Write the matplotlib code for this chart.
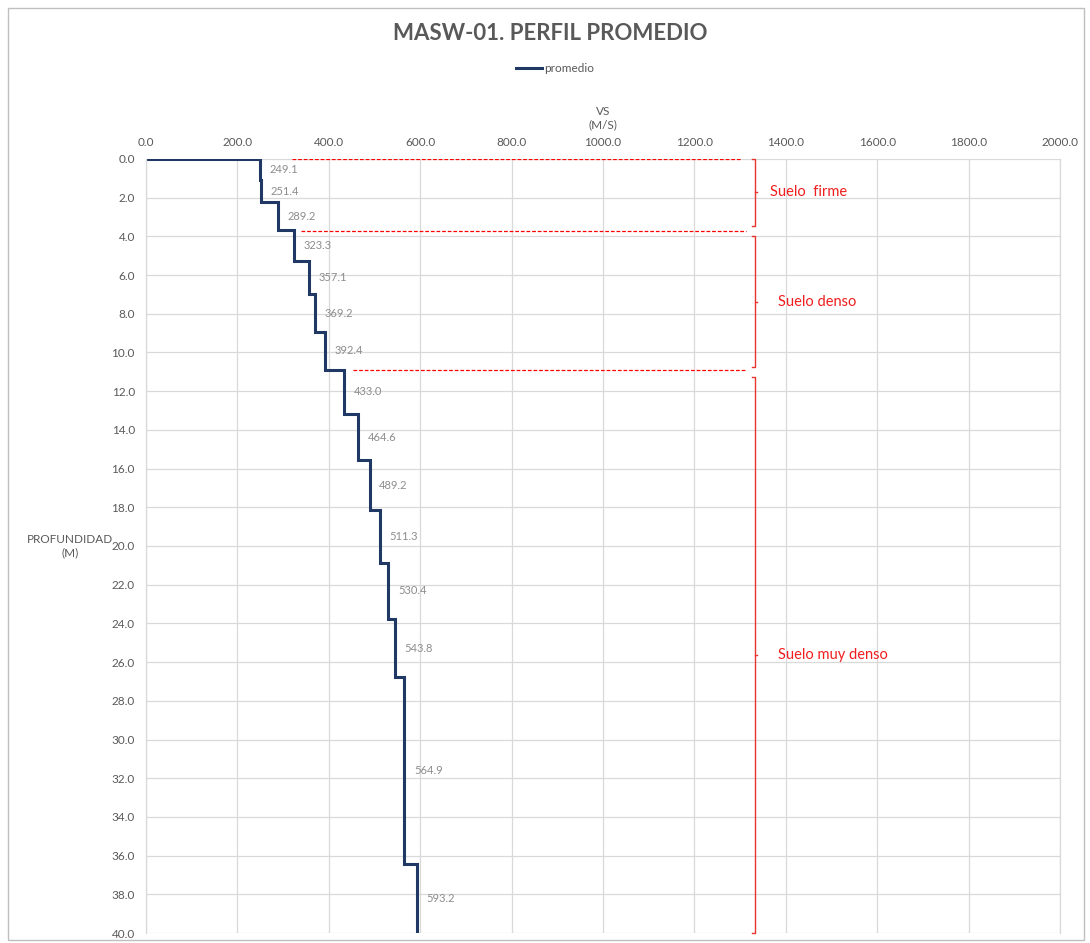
import numpy as np
import matplotlib
matplotlib.use('Agg')
import matplotlib.pyplot as plt
from matplotlib.patches import Rectangle

# layer data: velocity (m/s) and top depth (m) of each layer
vs = [249.1, 251.4, 289.2, 323.3, 357.1, 369.2, 392.4, 433.0,
      464.6, 489.2, 511.3, 530.4, 543.8, 564.9, 593.2]
tops = [0.0, 1.1, 2.24, 3.69, 5.27, 7.0, 8.92, 10.9,
        13.18, 15.57, 18.14, 20.86, 23.77, 26.79, 36.43]
bottom = 40.0

# soil zones: (name, top, bottom, dashed line start, dashed line end)
zone_names = ['Suelo  firme', 'Suelo denso', 'Suelo muy denso']
zone_tops = [0.0, 4.0, 11.27]
zone_bottoms = [3.45, 10.73, 40.0]
dash_depths = [0.0, 3.72, 10.9]
dash_start = [319, 339, 452]
dash_end = [1302, 1312, 1312]

plt.rcParams['font.family'] = ['Lato', 'DejaVu Sans']
GRAY = '#595959'
NAVY = '#1f3864'

fig = plt.figure(figsize=(10.9, 9.43), dpi=100)
ax = fig.add_axes([146 / 1090, 1 - 933 / 943, (1060 - 146) / 1090, (933 - 159) / 943])

# step profile
xs = [0.0]
ys = [0.0]
for i, v in enumerate(vs):
    top = tops[i]
    bot = tops[i + 1] if i + 1 < len(tops) else bottom
    xs += [v, v]
    ys += [top, bot]
ax.plot(xs, ys, color=NAVY, lw=2.2, label='promedio', solid_joinstyle='miter')

# value labels
for i, v in enumerate(vs):
    top = tops[i]
    bot = tops[i + 1] if i + 1 < len(tops) else bottom
    ax.annotate(f'{v:.1f}', (v, (top + bot) / 2), xytext=(7, 0),
                textcoords='offset points', ha='left', va='center',
                fontsize=8, color='#8c8c8c')

# zone boundaries and brackets
bx = 1333
for name, zt, zb, dd, d0, d1 in zip(zone_names, zone_tops, zone_bottoms,
                                    dash_depths, dash_start, dash_end):
    ax.plot([d0, d1], [dd, dd], color='red', lw=0.9, ls=(0, (3, 1.5)))
    ax.plot([bx - 8, bx, bx, bx - 8], [zt, zt, zb, zb], color='#e8352e', lw=1.0,
            clip_on=False)
    mid = (zt + zb) / 2
    ax.plot([bx, bx + 4], [mid, mid], color='#e8352e', lw=1.0)
    ax.text(bx + 33 if name == 'Suelo  firme' else bx + 50, mid, name,
            color='#f01e1e', fontsize=10.5, va='center', ha='left')

ax.set_xlim(0, 2000)
ax.set_ylim(40, 0)
ax.set_xticks(np.arange(0, 2001, 200))
ax.set_yticks(np.arange(0, 41, 2))
ax.xaxis.set_major_formatter(matplotlib.ticker.FormatStrFormatter('%.1f'))
ax.yaxis.set_major_formatter(matplotlib.ticker.FormatStrFormatter('%.1f'))
ax.xaxis.tick_top()
ax.xaxis.set_label_position('top')
ax.tick_params(length=0, labelsize=8.5, labelcolor=GRAY, pad=8)
ax.grid(True, color='#d9d9d9', lw=0.9)
ax.set_axisbelow(True)
for s in ax.spines.values():
    s.set_color('#d9d9d9')
    s.set_linewidth(0.9)
ax.spines['top'].set_visible(False)
ax.spines['bottom'].set_visible(False)

ax.set_xlabel('VS\n(M/S)', fontsize=8.5, color=GRAY, labelpad=6, linespacing=1.3)
ax.set_ylabel('PROFUNDIDAD\n(M)', fontsize=8.5, color=GRAY, rotation=0,
              ha='center', va='center', labelpad=30, linespacing=1.3)

fig.text(0.505, 1 - 33 / 943, 'MASW-01. PERFIL PROMEDIO', ha='center', va='center',
         fontsize=16, fontweight='bold', color=GRAY)
fig.legend(loc='center', bbox_to_anchor=(555 / 1090, 1 - 69 / 943), frameon=False,
           fontsize=8.5, labelcolor=GRAY, handlelength=2.2, handletextpad=0.2)

fig.patches.append(Rectangle((8 / 1090, 3 / 943), 1 - 14 / 1090, 1 - 11 / 943,
                             transform=fig.transFigure, fill=False,
                             edgecolor='#bfbfbf', lw=1))

fig.savefig('out.png', dpi=100)
